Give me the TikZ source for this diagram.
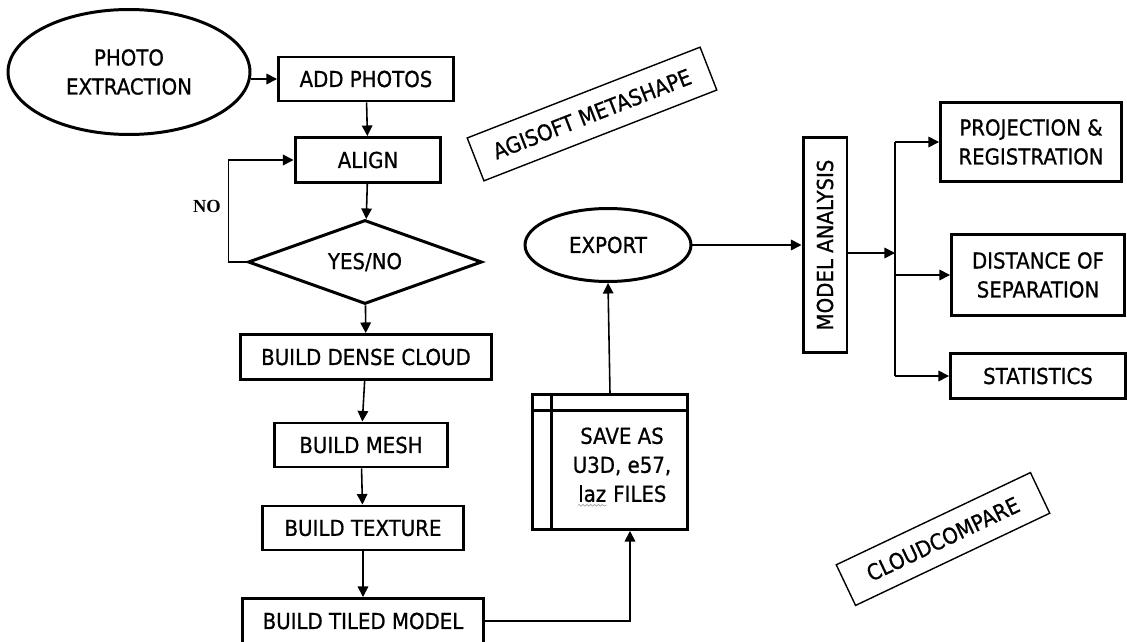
\documentclass[tikz,border=0pt]{standalone}
\usepackage{fontspec}
\setmainfont{DejaVu Sans}[FakeStretch=0.9, FakeBold=0.8]
\newfontfamily\serifbold{Liberation Serif}
\usepackage{tikz}
\usetikzlibrary{shapes,shapes.geometric,arrows.meta,positioning,calc,decorations.pathmorphing}

\newcommand{\boxfont}{\fontsize{12.5}{16.5}\selectfont}
% word with a spell-check squiggle underneath
\newcommand{\spellmark}[1]{\tikz[baseline=(sw.base)]{\node[inner sep=0pt] (sw) {#1};
  \draw[gray!70, line width=0.4pt, decorate, decoration={snake, amplitude=0.5pt, segment length=2.2pt}]
  ([yshift=-1.6pt]sw.south west) -- ([yshift=-1.6pt]sw.south east);}}

\begin{document}
\begin{tikzpicture}[
    x=0.02cm, y=-0.02cm,
    box/.style={rectangle, draw, line width=1.7pt, inner sep=2pt, font=\boxfont, align=center},
    oval/.style={ellipse, draw, line width=1.7pt, inner sep=0pt, font=\boxfont, align=center},
    tag/.style={rectangle, draw, line width=0.8pt, inner sep=0pt, font=\boxfont},
    arrow/.style={-{Triangle[length=6pt,width=6pt]}, line width=0.9pt},
    link/.style={line width=0.9pt}
]
    \fill[white] (0,0) rectangle (1127,642);
    \useasboundingbox (0,0) rectangle (1127,642);

    % Metashape processing chain
    \node[oval, minimum width=4.84cm, minimum height=2.5cm] (photo) at (129,72) {PHOTO\\EXTRACTION};
    \node[box, minimum width=3.5cm, minimum height=0.88cm] (add) at (366,79) {ADD PHOTOS};
    \node[box, minimum width=2.92cm, minimum height=0.9cm] (align) at (368,160) {ALIGN};
    \node[diamond, draw, line width=1.7pt, aspect=2.8, inner sep=0pt, minimum width=4.68cm, minimum height=1.68cm, font=\boxfont] (check) at (365,262) {YES/NO};
    \node[box, minimum width=5.02cm, minimum height=0.9cm] (dense) at (366,357) {BUILD DENSE CLOUD};
    \node[box, minimum width=3.48cm, minimum height=0.88cm] (mesh) at (361,445) {BUILD MESH};
    \node[box, minimum width=4.04cm, minimum height=0.88cm] (texture) at (363,528) {BUILD TEXTURE};
    \node[box, minimum width=4.84cm, minimum height=0.9cm] (tiled) at (363,621) {BUILD TILED MODEL};
    \node[font=\serifbold\bfseries\fontsize{10.5}{12}\selectfont] (no) at (207,206) {NO};

    % Export file box (stored data)
    \node[box, minimum width=3.1cm, minimum height=2.7cm] (save) at (610,462) {};
    \draw[line width=1.7pt] ([xshift=0.4cm]save.north west) -- ([xshift=0.4cm]save.south west);
    \draw[line width=1.7pt] ([yshift=-0.34cm]save.north west) -- ([yshift=-0.34cm]save.north east);
    \node[align=center, font=\boxfont] (savetext) at ([xshift=0.24cm, yshift=-0.1cm]save.center) {SAVE AS\\U3D, e57,\\\spellmark{laz} FILES};
    \node[oval, minimum width=3.32cm, minimum height=1.46cm] (export) at (608,245) {EXPORT};

    % CloudCompare analysis
    \node[box, inner sep=0pt, minimum width=0.88cm, minimum height=4.32cm] (analysis) at (825,245) {\rotatebox{90}{MODEL ANALYSIS}};
    \node[box, minimum width=3.62cm, minimum height=1.6cm] (proj) at (1031,142) {PROJECTION \&\\REGISTRATION};
    \node[box, minimum width=3.46cm, minimum height=1.62cm] (dist) at (1038,275) {DISTANCE OF\\SEPARATION};
    \node[box, minimum width=3.5cm, minimum height=0.9cm] (stats) at (1038,376) {STATISTICS};

    % Software labels
    \node[tag, rotate=21.3, minimum width=5.0cm, minimum height=0.92cm] (agisoft) at (592,114) {AGISOFT METASHAPE};
    \node[tag, rotate=25.4, minimum width=4.3cm, minimum height=0.9cm] (cloudcmp) at (943,539) {CLOUDCOMPARE};

    % Arrows
    \draw[arrow] (photo.east |- add.west) -- (add.west);
    \draw[arrow] (add) -- (align);
    \draw[arrow] (align) -- (check);
    \draw[arrow] (check.west) -- ++(-18,0) |- (align.west);
    \draw[arrow] (check) -- (dense);
    \draw[arrow] (dense) -- (mesh);
    \draw[arrow] (mesh) -- (texture);
    \draw[arrow] (texture) -- (tiled);
    \draw[arrow] (tiled.east) -| ([xshift=0.4cm]save.south);
    \draw[arrow] (save.north) -- (export.south);
    \draw[arrow] (export.east) -- (export.east -| analysis.west);

    \coordinate (split) at (895,253);
    \draw[arrow] (analysis.east |- split) -- (split);
    \draw[link] (split |- proj.west) -- (split |- stats.west);
    \foreach \t in {proj,dist,stats}
        \draw[arrow] (split |- \t.west) -- (\t.west);
\end{tikzpicture}
\end{document}
